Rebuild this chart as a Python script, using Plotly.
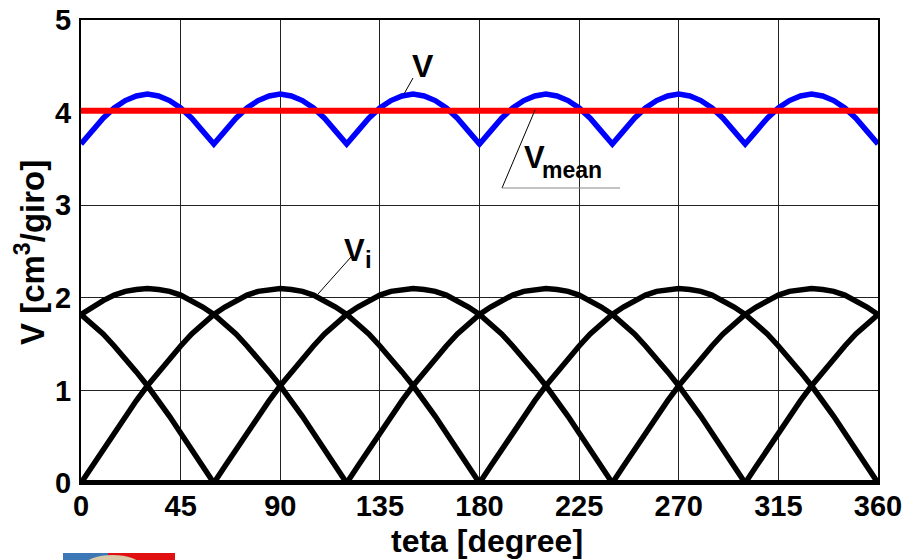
import plotly.graph_objects as go

# ---- data ----
# one displacement arch of a single piston, sampled every 5 degrees (0..180)
arch_step = 5
arch_vals = [0.00, 0.18, 0.36, 0.54, 0.72, 0.89, 1.05, 1.20, 1.35, 1.48, 1.61, 1.72,
             1.82, 1.90, 1.97, 2.03, 2.07, 2.09, 2.10, 2.09, 2.07, 2.03, 1.97, 1.90,
             1.82, 1.72, 1.61, 1.48, 1.35, 1.20, 1.05, 0.89, 0.72, 0.54, 0.36, 0.18, 0.00]
# start angle of each piston's arch (degrees)
piston_start = [0, 60, 120, 180, 240, 300]
# total volume V over one 60-degree period, sampled every 5 degrees
v_period = [3.66, 3.80, 3.94, 4.05, 4.13, 4.18, 4.20, 4.18, 4.13, 4.05, 3.94, 3.80, 3.66]
v_mean = 4.02
x_ticks = [0, 45, 90, 135, 180, 225, 270, 315, 360]
y_ticks = [0, 1, 2, 3, 4, 5]

theta = list(range(0, 361, arch_step))

FONT = "Liberation Sans"

fig = go.Figure()

# individual piston volumes V_i
for s in piston_start:
    yy = []
    for t in theta:
        ph = (t - s) % 360
        yy.append(arch_vals[ph // arch_step] if ph <= 180 else 0.0)
    fig.add_trace(go.Scatter(x=theta, y=yy, mode="lines",
                             line=dict(color="black", width=5.5), hoverinfo="skip",
                             showlegend=False))

# total V
n_per = len(v_period) - 1
v_all = [v_period[(i % n_per)] if not (i > 0 and i % n_per == 0) else v_period[-1]
         for i in range(len(theta))]
fig.add_trace(go.Scatter(x=theta, y=v_all, mode="lines",
                         line=dict(color="#0000ff", width=5.5), showlegend=False))
# mean
fig.add_trace(go.Scatter(x=[0, 360], y=[v_mean, v_mean], mode="lines",
                         line=dict(color="#ff0000", width=6), showlegend=False))

# ---- layout ----
L, R, T, B = 81, 34, 20, 77
W, H = 912, 560
pw, ph_ = W - L - R, H - T - B


def px2x(p):
    return (p - L) * 360.0 / pw


def px2y(p):
    return (H - B - p) * 5.0 / ph_


def ppx(p):
    return (p - L) / pw


def ppy(p):
    return (H - B - p) / ph_


lines = [
    # V leader
    (px2x(413), px2y(78), px2x(404), px2y(94), "black"),
    # V_mean leader
    (px2x(535), px2y(110), px2x(502), px2y(188), "black"),
    (px2x(502), px2y(188), px2x(620), px2y(188), "#888888"),
    # V_i leader
    (px2x(351), px2y(257), px2x(318), px2y(294), "black"),
]
shapes = []
for x0, y0, x1, y1, c in lines:
    shapes.append(dict(type="line", xref="x", yref="y", x0=x0, y0=y0, x1=x1, y1=y1,
                       line=dict(color=c, width=1)))

# small logo fragment at the bottom-left corner
shapes.append(dict(type="rect", xref="paper", yref="paper", x0=ppx(63), x1=ppx(108),
                   y0=ppy(560), y1=ppy(553), fillcolor="#3b78b5", line=dict(width=0)))
shapes.append(dict(type="rect", xref="paper", yref="paper", x0=ppx(108), x1=ppx(175),
                   y0=ppy(560), y1=ppy(553), fillcolor="#e01010", line=dict(width=0)))
shapes.append(dict(type="circle", xref="paper", yref="paper", x0=ppx(85), x1=ppx(140),
                   y0=ppy(575), y1=ppy(555), fillcolor="#d8c8a8", line=dict(width=0)))

annots = [
    dict(x=ppx(487), y=ppy(541), xref="paper", yref="paper", text="<b>teta [degree]</b>",
         showarrow=False, font=dict(family=FONT, size=32, color="black"),
         xanchor="center", yanchor="middle"),
    dict(x=ppx(30), y=ppy(253), xref="paper", yref="paper",
         text="<b>V [cm<sup>3</sup>/giro]</b>", textangle=-90,
         showarrow=False, font=dict(family=FONT, size=33, color="black"),
         xanchor="center", yanchor="middle"),
    dict(x=px2x(423), y=px2y(66), xref="x", yref="y", text="<b>V</b>", showarrow=False,
         font=dict(family=FONT, size=32, color="black")),
    dict(x=px2x(534), y=px2y(157), xref="x", yref="y", text="<b>V</b>", showarrow=False,
         font=dict(family=FONT, size=31, color="black")),
    dict(x=px2x(572), y=px2y(170), xref="x", yref="y", text="<b>mean</b>", showarrow=False,
         font=dict(family=FONT, size=23, color="black")),
    dict(x=px2x(354.5), y=px2y(250), xref="x", yref="y", text="<b>V</b>", showarrow=False,
         font=dict(family=FONT, size=31, color="black")),
    dict(x=px2x(368.5), y=px2y(259), xref="x", yref="y", text="<b>i</b>", showarrow=False,
         font=dict(family=FONT, size=24, color="black")),
]

fig.update_layout(
    width=W, height=H,
    margin=dict(l=L, r=R, t=T, b=B, pad=0, autoexpand=False),
    paper_bgcolor="white", plot_bgcolor="white",
    shapes=shapes, annotations=annots,
    font=dict(family=FONT, color="black"),
)
fig.update_xaxes(range=[0, 360], tickvals=x_ticks, ticktext=[f"<b>{v}</b>" for v in x_ticks],
                 showgrid=True, gridcolor="#222222", gridwidth=1, zeroline=False,
                 showline=True, linecolor="black", linewidth=2, mirror=True,
                 ticks="", tickfont=dict(family=FONT, size=29, color="black"),
                 ticklabelstandoff=-4, automargin=False)
fig.update_yaxes(range=[0, 5], tickvals=y_ticks, ticktext=[f"<b>{v}</b>" for v in y_ticks],
                 showgrid=True, gridcolor="#222222", gridwidth=1, zeroline=False,
                 showline=True, linecolor="black", linewidth=2, mirror=True,
                 ticks="", tickfont=dict(family=FONT, size=29, color="black"),
                 ticklabelstandoff=2, automargin=False)

fig.write_html("out.html")
